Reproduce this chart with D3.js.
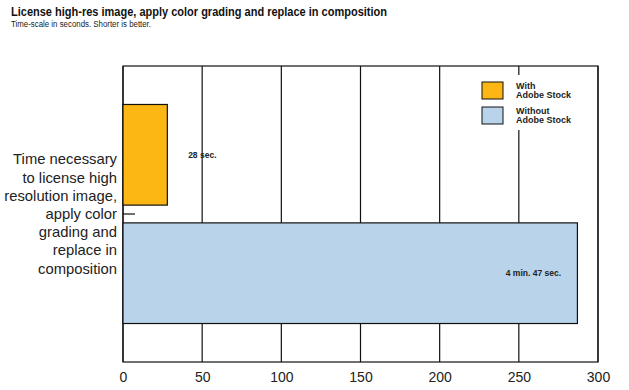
<!DOCTYPE html>
<html>
<head>
<meta charset="utf-8">
<script src="https://cdn.jsdelivr.net/npm/d3@7"></script>
<style>
  body { margin: 0; background: #fff; }
  text { font-family: "Liberation Sans", Arial, sans-serif; }
</style>
</head>
<body>
<div id="chart"></div>
<script>
// data
const categories = ["Time necessary to license high resolution image, apply color grading and replace in composition"];
const categoryLines = ["Time necessary", "to license high", "resolution image,", "apply color", "grading and", "replace in", "composition"];
const series = ["With Adobe Stock", "Without Adobe Stock"];
const legendLines = [["With", "Adobe Stock"], ["Without", "Adobe Stock"]];
const values = [28, 287];
const valueLabels = ["28 sec.", "4 min. 47 sec."];
const colors = ["#fdb714", "#b9d3ea"];
const xTicks = [0, 50, 100, 150, 200, 250, 300];

const W = 629, H = 390;
const plot = { left: 123, right: 598, top: 66, bottom: 362 };

const svg = d3.select("#chart").append("svg")
    .attr("width", W)
    .attr("height", H);

// title
svg.append("text")
    .attr("x", 11).attr("y", 16)
    .attr("font-size", 13).attr("font-weight", "bold")
    .attr("fill", "#111")
    .attr("textLength", 376).attr("lengthAdjust", "spacingAndGlyphs")
    .text("License high-res image, apply color grading and replace in composition");

svg.append("text")
    .attr("x", 11).attr("y", 27)
    .attr("font-size", 8.5)
    .attr("fill", "#222")
    .attr("textLength", 140).attr("lengthAdjust", "spacingAndGlyphs")
    .text("Time-scale in seconds. Shorter is better.");

// scales
const x = d3.scaleLinear()
    .domain([0, 300])
    .range([plot.left, plot.right]);

const y = d3.scaleBand()
    .domain(categories)
    .range([plot.top, plot.bottom]);

const ySub = d3.scaleBand()
    .domain(series)
    .range([0, y.bandwidth()])
    .paddingInner(0.15)
    .paddingOuter(0.325);

// grid lines
svg.append("g")
    .selectAll("line")
    .data(xTicks)
  .enter().append("line")
    .attr("x1", d => x(d)).attr("x2", d => x(d))
    .attr("y1", plot.top).attr("y2", plot.bottom)
    .attr("stroke", "#111").attr("stroke-width", 1.2);

// frame
svg.append("rect")
    .attr("x", plot.left).attr("y", plot.top)
    .attr("width", plot.right - plot.left)
    .attr("height", plot.bottom - plot.top)
    .attr("fill", "none")
    .attr("stroke", "#111").attr("stroke-width", 1.2);

// x axis labels
const xAxis = d3.axisBottom(x).tickValues(xTicks).tickSize(0).tickPadding(10);
svg.append("g")
    .attr("transform", "translate(0," + plot.bottom + ")")
    .call(xAxis)
    .call(g => g.select(".domain").remove())
    .selectAll("text")
    .attr("font-family", "Liberation Sans, Arial, sans-serif")
    .attr("font-size", 14)
    .attr("fill", "#222");

// y axis tick (inner)
const yAxis = d3.axisLeft(y).tickSize(-12).tickFormat("");
svg.append("g")
    .attr("transform", "translate(" + plot.left + ",0)")
    .call(yAxis)
    .call(g => g.select(".domain").remove())
    .selectAll("line")
    .attr("stroke", "#111").attr("stroke-width", 1.2);

// category label
const catY = y(categories[0]) + y.bandwidth() / 2;
svg.append("g")
    .selectAll("text")
    .data(categoryLines)
  .enter().append("text")
    .attr("x", plot.left - 6)
    .attr("y", (d, i) => catY + (i - (categoryLines.length - 1) / 2) * 18.2 + 5)
    .attr("text-anchor", "end")
    .attr("font-size", 14.8)
    .attr("fill", "#222")
    .text(d => d);

// bars
const bars = series.map((s, i) => ({ s, v: values[i], label: valueLabels[i], color: colors[i] }));

svg.append("g")
    .selectAll("rect")
    .data(bars)
  .enter().append("rect")
    .attr("x", x(0))
    .attr("y", d => y(categories[0]) + ySub(d.s))
    .attr("width", d => x(d.v) - x(0))
    .attr("height", ySub.bandwidth())
    .attr("fill", d => d.color)
    .attr("stroke", "#111").attr("stroke-width", 1.2);

// value labels
svg.append("g")
    .selectAll("text")
    .data(bars)
  .enter().append("text")
    .attr("x", d => d.v < 100 ? x(d.v) + 35 : x(d.v) - 44)
    .attr("y", d => y(categories[0]) + ySub(d.s) + ySub.bandwidth() / 2 + 3)
    .attr("text-anchor", "middle")
    .attr("font-size", 8.5).attr("font-weight", "bold")
    .attr("fill", "#222")
    .text(d => d.label);

// legend
const legend = svg.append("g").attr("transform", "translate(474,75)");
legend.append("rect")
    .attr("width", 100).attr("height", 55)
    .attr("fill", "#fff");

const item = legend.selectAll(".legend-item")
    .data(bars)
  .enter().append("g")
    .attr("class", "legend-item")
    .attr("transform", (d, i) => "translate(8," + (7 + i * 25) + ")");

item.append("rect")
    .attr("width", 21).attr("height", 17)
    .attr("fill", d => d.color)
    .attr("stroke", "#111").attr("stroke-width", 1);

item.selectAll("text")
    .data((d, i) => legendLines[i])
  .enter().append("text")
    .attr("x", 34)
    .attr("y", (d, j) => 7 + j * 9)
    .attr("font-size", 9).attr("font-weight", "bold")
    .attr("fill", "#222")
    .text(d => d);
</script>
</body>
</html>
